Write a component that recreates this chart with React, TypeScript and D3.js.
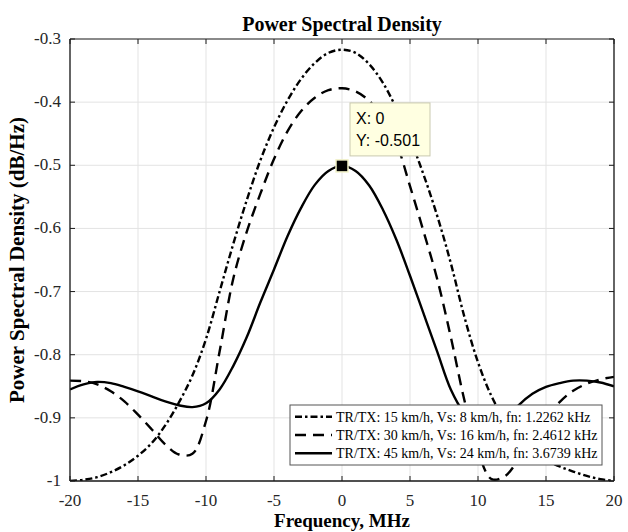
import * as d3 from "d3";

// frequency grid, MHz
const freq = [
  -20, -19, -18, -17, -16, -15, -14, -13, -12, -11, -10, -9, -8, -7, -6, -5, -4, -3, -2, -1, 0,
  1, 2, 3, 4, 5, 6, 7, 8, 9, 10, 11, 12, 13, 14, 15, 16, 17, 18, 19, 20,
];

// TR/TX 15 km/h (dash-dot)
const psd15 = [
  -1.0, -0.998, -0.994, -0.986, -0.975, -0.96, -0.94, -0.912, -0.876, -0.833, -0.775, -0.7, -0.625, -0.555, -0.492, -0.44, -0.397, -0.363, -0.338, -0.322, -0.317,
  -0.322, -0.34, -0.369, -0.41, -0.458, -0.515, -0.58, -0.655, -0.74, -0.812, -0.866, -0.905, -0.934, -0.954, -0.967, -0.977, -0.985, -0.992, -0.997, -1.0,
];

// TR/TX 30 km/h (dashed)
const psd30 = [
  -0.841, -0.842, -0.847, -0.858, -0.874, -0.895, -0.918, -0.942, -0.958, -0.957, -0.905, -0.795, -0.68, -0.605, -0.545, -0.49, -0.446, -0.414, -0.393, -0.381, -0.378,
  -0.383, -0.398, -0.425, -0.465, -0.533, -0.605, -0.68, -0.772, -0.872, -0.953, -0.997, -0.992, -0.965, -0.933, -0.9, -0.875, -0.857, -0.846, -0.839, -0.835,
];

// TR/TX 45 km/h (solid)
const psd45 = [
  -0.855, -0.847, -0.843, -0.845, -0.851, -0.858, -0.866, -0.874, -0.88, -0.883, -0.877, -0.855, -0.818, -0.772, -0.717, -0.665, -0.612, -0.567, -0.531, -0.509, -0.501,
  -0.509, -0.532, -0.57, -0.618, -0.675, -0.735, -0.795, -0.855, -0.893, -0.915, -0.92, -0.905, -0.88, -0.862, -0.851, -0.845, -0.841, -0.841, -0.844, -0.85,
];

const legendLabels = [
  "TR/TX: 15 km/h, Vs: 8 km/h, fn: 1.2262 kHz",
  "TR/TX: 30 km/h, Vs: 16 km/h, fn: 2.4612 kHz",
  "TR/TX: 45 km/h, Vs: 24 km/h, fn: 3.6739 kHz",
];
const dashes = ["7,3,2.5,3", "11,7", ""];

const xTicks = [-20, -15, -10, -5, 0, 5, 10, 15, 20];
const xTickLabels = ["-20", "-15", "-10", "-5", "0", "5", "10", "15", "20"];
const yTicks = [-1, -0.9, -0.8, -0.7, -0.6, -0.5, -0.4, -0.3];
const yTickLabels = ["-1", "-0.9", "-0.8", "-0.7", "-0.6", "-0.5", "-0.4", "-0.3"];

const tipX = 0;
const tipY = -0.501;

const width = 628;
const height = 532;
const margin = { left: 70, right: 14, top: 39, bottom: 51 };

const serif = "'Liberation Serif', 'Times New Roman', serif";
const sans = "'Liberation Sans', Arial, sans-serif";

export default function App() {
  const x = d3.scaleLinear().domain([-20, 20]).range([margin.left, width - margin.right]);
  const y = d3.scaleLinear().domain([-1, -0.3]).range([height - margin.bottom, margin.top]);

  const line = d3
    .line<number>()
    .x((d, i) => x(freq[i]))
    .y((d) => y(d))
    .curve(d3.curveCatmullRom);

  const series = [psd15, psd30, psd45];
  const x0 = x(-20);
  const x1 = x(20);
  const y0 = y(-1);
  const y1 = y(-0.3);

  // legend
  const lgX = 290;
  const lgY = 405;
  const lgW = 312;
  const lgH = 60;

  const mx = x(tipX);
  const my = y(tipY);

  return (
    <svg
      width={width}
      height={height}
      style={{ position: "absolute", left: 0, top: 0, background: "#fff" }}
    >
      <defs>
        <clipPath id="plotClip">
          <rect x={x0} y={y1} width={x1 - x0} height={y0 - y1} />
        </clipPath>
      </defs>
      <rect x={0} y={0} width={width} height={height} fill="#fff" />

      {/* grid */}
      {xTicks.map((t) => (
        <line key={"gx" + t} x1={x(t)} x2={x(t)} y1={y1} y2={y0} stroke="#e3e3e3" strokeWidth={1} />
      ))}
      {yTicks.map((t) => (
        <line key={"gy" + t} x1={x0} x2={x1} y1={y(t)} y2={y(t)} stroke="#e3e3e3" strokeWidth={1} />
      ))}

      {/* curves */}
      <g clipPath="url(#plotClip)">
        {series.map((s, i) => (
          <path
            key={"s" + i}
            d={line(s) || ""}
            fill="none"
            stroke="#000"
            strokeWidth={2.4}
            strokeDasharray={dashes[i] || undefined}
          />
        ))}
      </g>

      {/* axes box */}
      <line x1={x0} x2={x1} y1={y1} y2={y1} stroke="#8a8a8a" strokeWidth={2} />
      <line x1={x0} x2={x1} y1={y0} y2={y0} stroke="#1a1a1a" strokeWidth={1.3} />
      <line x1={x0} x2={x0} y1={y1} y2={y0} stroke="#1a1a1a" strokeWidth={1.3} />
      <line x1={x1} x2={x1} y1={y1} y2={y0} stroke="#1a1a1a" strokeWidth={1.3} />

      {/* ticks */}
      {xTicks.map((t) => (
        <g key={"tx" + t}>
          <line x1={x(t)} x2={x(t)} y1={y0} y2={y0 - 5} stroke="#1a1a1a" />
          <line x1={x(t)} x2={x(t)} y1={y1} y2={y1 + 5} stroke="#1a1a1a" />
        </g>
      ))}
      {yTicks.map((t) => (
        <g key={"ty" + t}>
          <line x1={x0} x2={x0 + 5} y1={y(t)} y2={y(t)} stroke="#1a1a1a" />
          <line x1={x1} x2={x1 - 5} y1={y(t)} y2={y(t)} stroke="#1a1a1a" />
        </g>
      ))}

      {/* tick labels */}
      {xTicks.map((t, i) => (
        <text
          key={"lx" + t}
          x={x(t)}
          y={y0 + 25}
          textAnchor="middle"
          fontFamily={serif}
          fontSize={17}
          fill="#262626"
        >
          {xTickLabels[i]}
        </text>
      ))}
      {yTicks.map((t, i) => (
        <text
          key={"ly" + t}
          x={x0 - 9}
          y={y(t) + 5}
          textAnchor="end"
          fontFamily={serif}
          fontSize={17}
          fill="#262626"
        >
          {yTickLabels[i]}
        </text>
      ))}

      {/* titles */}
      <text x={(x0 + x1) / 2} y={31} textAnchor="middle" fontFamily={serif} fontWeight="bold" fontSize={20} fill="#000">
        Power Spectral Density
      </text>
      <text x={(x0 + x1) / 2} y={527} textAnchor="middle" fontFamily={serif} fontWeight="bold" fontSize={19} fill="#000">
        Frequency, MHz
      </text>
      <text
        transform={`translate(24,${(y0 + y1) / 2}) rotate(-90)`}
        textAnchor="middle"
        fontFamily={serif}
        fontWeight="bold"
        fontSize={21}
        fill="#000"
      >
        Power Spectral Density (dB/Hz)
      </text>

      {/* legend */}
      <rect x={lgX} y={lgY} width={lgW} height={lgH} fill="#fff" stroke="#555" strokeWidth={1} />
      {legendLabels.map((lab, i) => {
        const cy = lgY + 11.7 + i * 18.3;
        return (
          <g key={"lg" + i}>
            <line
              x1={lgX + 5}
              x2={lgX + 42}
              y1={cy}
              y2={cy}
              stroke="#000"
              strokeWidth={2.4}
              strokeDasharray={dashes[i] || undefined}
            />
            <text x={lgX + 46} y={cy + 5} fontFamily={serif} fontSize={14} fill="#000">
              {lab}
            </text>
          </g>
        );
      })}

      {/* data tip */}
      <rect x={mx + 8} y={my - 63} width={80} height={53} fill="#ffffe1" stroke="#c9c9b0" strokeWidth={1} />
      <text x={mx + 14} y={my - 42} fontFamily={sans} fontSize={16} fill="#000">
        X: 0
      </text>
      <text x={mx + 14} y={my - 20} fontFamily={sans} fontSize={16} fill="#000">
        Y: -0.501
      </text>
      <rect x={mx - 6} y={my - 6} width={12} height={12} fill="#000" stroke="#f2f2c8" strokeWidth={1.5} />
    </svg>
  );
}
